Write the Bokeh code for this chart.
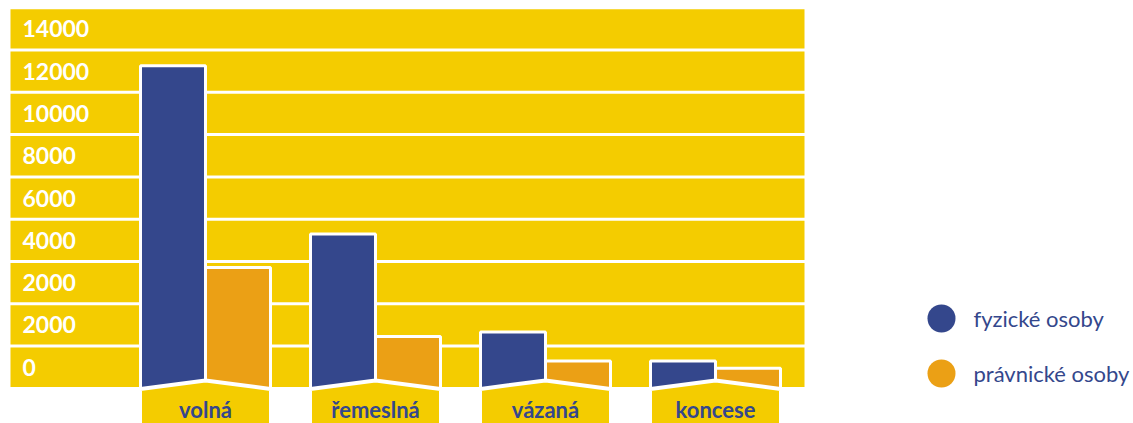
from bokeh.plotting import figure
from bokeh.models import Range1d
from bokeh.core.properties import value
from bokeh.embed import file_html
from bokeh.resources import INLINE

# ---------------- data ----------------
categories = ["volná", "řemeslná", "vázaná", "koncese"]
fyzicke = [15250, 7300, 2670, 1300]
pravnicke = [5720, 2450, 1300, 950]
series_names = ["fyzické osoby", "právnické osoby"]
tick_labels = ["0", "2000", "2000", "4000", "6000", "8000", "10000", "12000", "14000"]
band_step = 2000

# ---------------- style ----------------
YELLOW = "#F4CC00"
BLUE = "#34478C"
ORANGE = "#EBA015"
WHITE = "#FFFFFF"
FONT = "Lato"

W, H = 1133, 423
OFF = 0                        # page offset of the figure
band_px = 42.3                 # pixel height of one band
upp = band_step / band_px      # data units per pixel (y)
zero_img = 387.9               # image y of value 0
ystart = -(OFF + H - zero_img) * upp
yend = (zero_img - OFF) * upp

cat_px = 170.0                 # pixels per category step
c0_img = 205.0                 # image x of first category centre
xstart = (OFF - c0_img) / cat_px
xend = (OFF + W - c0_img) / cat_px

def ximg(px):
    return (px - c0_img) / cat_px

def yimg(py):
    return (zero_img - py) * upp

bar_w = 65.0 / cat_px
slant = 8.5 * upp
gap = 3.0 * upp

p = figure(width=W, height=H, x_range=Range1d(xstart, xend), y_range=Range1d(ystart, yend),
           output_backend="svg", toolbar_location=None, min_border=0,
           x_axis_type=None, y_axis_type=None, outline_line_color=None)
p.grid.visible = False
p.background_fill_color = WHITE
p.border_fill_color = WHITE

# background bands
n_bands = len(tick_labels)
p.quad(left=[ximg(10)] * n_bands, right=[ximg(804)] * n_bands,
       bottom=[k * band_step + gap / 2 for k in range(n_bands)],
       top=[(k + 1) * band_step - gap / 2 for k in range(n_bands)],
       fill_color=YELLOW, line_color=None)

# y labels
p.text(x=[ximg(22)] * n_bands, y=[(k + 0.5) * band_step for k in range(n_bands)], text=tick_labels,
       text_font=value(FONT), text_font_style="bold", text_font_size="23px",
       text_color=WHITE, text_align="left", text_baseline="middle")

# bars with slanted bottoms
centers = list(range(len(categories)))
bxs, bys, oxs, oys = [], [], [], []
for c, v1, v2 in zip(centers, fyzicke, pravnicke):
    bxs.append([c - bar_w, c - bar_w, c, c])
    bys.append([0, v1, v1, slant])
    oxs.append([c, c, c + bar_w, c + bar_w])
    oys.append([slant, v2, v2, 0])
p.patches(xs=bxs, ys=bys, fill_color=BLUE, line_color=WHITE, line_width=3)
p.patches(xs=oxs, ys=oys, fill_color=ORANGE, line_color=WHITE, line_width=3)

# category boxes
g = 1.0 * upp
low = ystart - 60 * upp
kxs, kys = [], []
for c in centers:
    kxs.append([c - bar_w, c, c + bar_w, c + bar_w, c - bar_w])
    kys.append([-g, slant - g, -g, low, low])
p.patches(xs=kxs, ys=kys, fill_color=YELLOW, line_color=WHITE, line_width=3)
p.text(x=centers, y=[yimg(409)] * len(categories), text=categories,
       text_font=value(FONT), text_font_style="bold", text_font_size="22px",
       text_color=BLUE, text_align="center", text_baseline="middle")

# legend
leg_y = [yimg(318), yimg(373)]
p.scatter(x=[ximg(941)] * 2, y=leg_y, size=28, marker="circle",
          fill_color=[BLUE, ORANGE], line_color=None)
p.text(x=[ximg(973)] * 2, y=leg_y, text=series_names,
       text_font=value(FONT), text_font_size="22px",
       text_color=BLUE, text_align="left", text_baseline="middle")

open("out.html", "w").write(file_html(p, INLINE))
